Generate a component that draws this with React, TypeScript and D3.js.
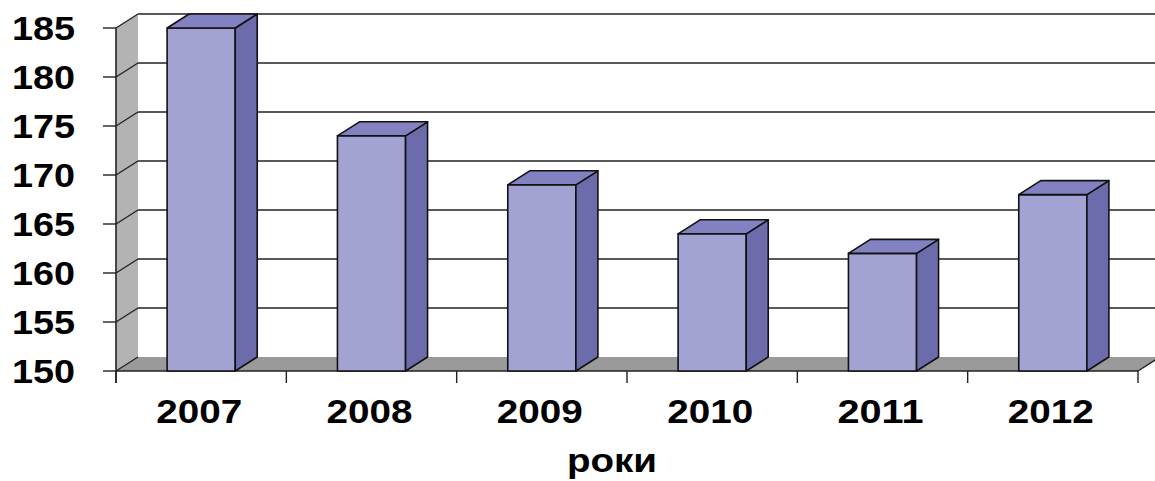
import React from 'react';
import * as d3 from 'd3';

const years = ['2007', '2008', '2009', '2010', '2011', '2012'];
const values = [185, 174, 169, 164, 162, 168];
const yTicks = [150, 155, 160, 165, 170, 175, 180, 185];
const axisTitle = 'роки';

const W = 1155;
const H = 481;
const DX = 22; // 3d depth offset
const DY = -14;
const FONT = '"Liberation Sans", Arial, sans-serif';

const App: React.FC = () => {
  const x = d3.scaleBand<string>().domain(years).range([116, 1138]).padding(0);
  const y = d3.scaleLinear().domain([150, 185]).range([371, 28]);

  const x0 = 116;
  const x1 = 1138;
  const y0 = y(150);
  const yTop = y(185);
  const bw = x.bandwidth() * 0.4;

  const poly = (pts: [number, number][]) => pts.map(p => p.join(',')).join(' ');

  return (
    <div style={{ position: 'fixed', left: 0, top: 0 }}>
      <svg width={W} height={H} style={{ display: 'block', background: '#fff' }}>
        {/* left wall */}
        <polygon
          points={poly([[x0, y0], [x0, yTop], [x0 + DX, yTop + DY], [x0 + DX, y0 + DY]])}
          fill="#b3b3b3"
        />
        {/* floor */}
        <polygon
          points={poly([[x0, y0], [x0 + DX, y0 + DY], [x1 + DX, y0 + DY], [x1, y0]])}
          fill="#9a9a9a"
        />
        {/* gridlines on back wall + diagonals on left wall */}
        {yTicks.map(t => (
          <g key={t}>
            {t !== 150 && (
              <line x1={x0 + DX} x2={x1 + DX} y1={y(t) + DY} y2={y(t) + DY} stroke="#222" strokeWidth={1.6} />
            )}
            <line x1={x0} x2={x0 + DX} y1={y(t)} y2={y(t) + DY} stroke="#222" strokeWidth={1.4} />
            <line x1={103} x2={x0} y1={y(t)} y2={y(t)} stroke="#222" strokeWidth={1.4} />
            <text
              x={75}
              y={y(t) + 12}
              textAnchor="end"
              fontFamily={FONT}
              fontWeight="bold"
              fontSize={33}
              textLength={63}
              lengthAdjust="spacingAndGlyphs"
              fill="#000"
            >
              {t}
            </text>
          </g>
        ))}
        {/* floor right edge line */}
        <line x1={x1} x2={x1 + DX} y1={y0} y2={y0 + DY} stroke="#222" strokeWidth={1.4} />
        {/* axes */}
        <line x1={x0} x2={x0} y1={yTop} y2={y0 + 12} stroke="#222" strokeWidth={1.6} />
        <line x1={x0} x2={x1} y1={y0} y2={y0} stroke="#222" strokeWidth={1.6} />
        {[...years.map(c => x(c)!), x1].map((px, i) => (
          <line key={i} x1={px} x2={px} y1={y0} y2={y0 + 12} stroke="#222" strokeWidth={1.4} />
        ))}
        {/* bars */}
        {years.map((c, i) => {
          const cx = x(c)! + x.bandwidth() / 2;
          const bx = cx - bw / 2;
          const by = y(values[i]);
          return (
            <g key={c} stroke="#111" strokeWidth={1.6} strokeLinejoin="round">
              <rect x={bx} y={by} width={bw} height={y0 - by} fill="#a3a3d3" />
              <polygon
                points={poly([[bx + bw, y0], [bx + bw, by], [bx + bw + DX, by + DY], [bx + bw + DX, y0 + DY]])}
                fill="#6c6cac"
              />
              <polygon
                points={poly([[bx, by], [bx + DX, by + DY], [bx + bw + DX, by + DY], [bx + bw, by]])}
                fill="#8282c2"
              />
            </g>
          );
        })}
        {/* category labels */}
        {years.map(c => (
          <text
            key={c}
            x={x(c)! + x.bandwidth() / 2 - 2}
            y={423}
            textAnchor="middle"
            fontFamily={FONT}
            fontWeight="bold"
            fontSize={34}
            textLength={86}
            lengthAdjust="spacingAndGlyphs"
            fill="#000"
          >
            {c}
          </text>
        ))}
        <text
          x={612}
          y={472}
          textAnchor="middle"
          fontFamily={FONT}
          fontWeight="bold"
          fontSize={34}
          textLength={90}
          lengthAdjust="spacingAndGlyphs"
          fill="#000"
        >
          {axisTitle}
        </text>
      </svg>
    </div>
  );
};

export default App;
